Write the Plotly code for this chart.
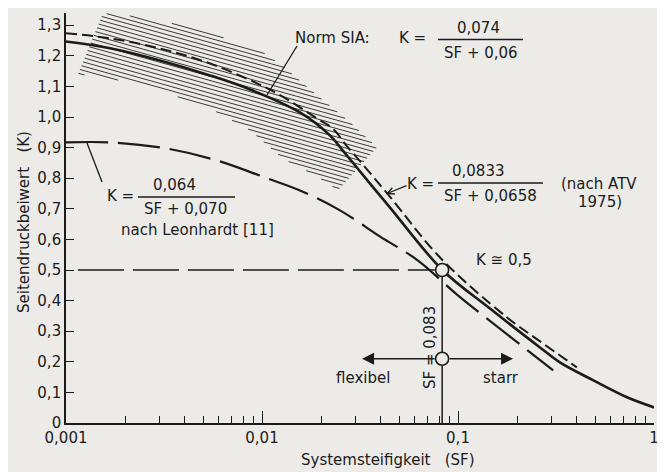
import numpy as np
import plotly.graph_objects as go

# ---------------- data ----------------
sia_sf = [0.001, 0.00168, 0.00302, 0.00543, 0.00869, 0.0156, 0.0222, 0.0258, 0.0369,
          0.0449, 0.083, 0.1456, 0.262, 0.331, 0.488, 0.728, 1.0]
sia_k = [1.247, 1.225, 1.185, 1.136, 1.090, 1.015, 0.940, 0.891, 0.770,
         0.705, 0.501, 0.374, 0.247, 0.198, 0.140, 0.084, 0.051]

atv_sf = [0.001, 0.00168, 0.00302, 0.00543, 0.00944, 0.0128, 0.0191, 0.0230, 0.0271, 0.0317,
          0.0449, 0.0812, 0.1779, 0.262, 0.404]
atv_k = [1.274, 1.257, 1.224, 1.175, 1.110, 1.066, 0.995, 0.962, 0.905, 0.855,
         0.740, 0.540, 0.345, 0.267, 0.182]

leo_sf = [0.001, 0.00168, 0.00327, 0.00589, 0.01059, 0.01563, 0.0250, 0.0399,
          0.0625, 0.0999, 0.1942, 0.306]
leo_k = [0.917, 0.917, 0.897, 0.858, 0.800, 0.760, 0.695, 0.610,
         0.531, 0.417, 0.271, 0.172]

# hatched band (scatter range of measurements)
band_upper_sf = [0.001544, 0.002048, 0.003017, 0.005429, 0.009767, 0.012798, 0.019083, 0.02812, 0.03861]
band_upper_k = [1.339, 1.332, 1.316, 1.274, 1.218, 1.166, 1.071, 0.983, 0.901]
band_lower_sf = [0.001151, 0.001677, 0.003017, 0.005429, 0.008685, 0.012798, 0.019083, 0.02442]
band_lower_k = [1.140, 1.127, 1.087, 1.028, 0.957, 0.864, 0.806, 0.761]

# critical point
sf_crit = 0.083
k_crit = 0.5
k_arrow = 0.21
arrow_left_sf = 0.0324
arrow_right_sf = 0.191
ref_line_start_sf = 0.00115

# ticks
x_tickvals = [0.001, 0.01, 0.1, 1]
x_ticktext = ["0,001", "0,01", "0,1", "1"]
x_minor = [m * d for d in (0.001, 0.01, 0.1) for m in range(2, 10)]
y_tickvals = [i / 10 for i in range(0, 14)]
y_ticktext = ["0"] + [f"{v:.1f}".replace(".", ",") for v in y_tickvals[1:]]

# ---------------- layout constants ----------------
# the page body has an 8px margin, so the figure is placed at (8, 8)
OFF = 8
W, H = 665 - OFF, 472 - OFF
ML, MR, MT, MB = 58, 11, 5, 49
PW, PH = W - ML - MR, H - MT - MB
SCR_LEFT = ML + OFF          # screen x of plot left edge
SCR_BOTTOM = H - MB + OFF    # screen y of plot bottom edge
Y_MAX = 1.34
INK = "#1b1b1b"
BG = "#ecebe8"
FONT = "DejaVu Sans"


def px(x):
    return (x - SCR_LEFT) / PW


def py(y):
    return (SCR_BOTTOM - y) / PH


# ---------------- hatch computation ----------------
poly_u = [np.log10(v) for v in band_upper_sf] + [np.log10(v) for v in band_lower_sf[::-1]]
poly_k = list(band_upper_k) + list(band_lower_k[::-1])
n = len(poly_u)
slope = -0.179  # K per decade (shallow, descending to the right)
cvals = [k - slope * u for u, k in zip(poly_u, poly_k)]
hx, hy = [], []
step = 0.0138
c = min(cvals) + step / 2
while c < max(cvals):
    pts = []
    for i in range(n):
        u1, k1 = poly_u[i], poly_k[i]
        u2, k2 = poly_u[(i + 1) % n], poly_k[(i + 1) % n]
        f1 = k1 - (c + slope * u1)
        f2 = k2 - (c + slope * u2)
        if (f1 > 0) != (f2 > 0):
            t = f1 / (f1 - f2)
            pts.append(u1 + t * (u2 - u1))
    pts.sort()
    for j in range(0, len(pts) - 1, 2):
        for uu in (pts[j], pts[j + 1]):
            hx.append(10 ** uu)
            hy.append(c + slope * uu)
        hx.append(None)
        hy.append(None)
    c += step

fig = go.Figure()

fig.add_trace(go.Scatter(x=hx, y=hy, mode="lines",
                         line=dict(color="#3a3a3a", width=1.0), hoverinfo="skip"))

# reference lines
fig.add_trace(go.Scatter(x=[ref_line_start_sf, sf_crit], y=[k_crit, k_crit], mode="lines",
                         line=dict(color=INK, width=1.5, dash="46px,9px")))
fig.add_trace(go.Scatter(x=[sf_crit, sf_crit], y=[0, k_crit], mode="lines",
                         line=dict(color=INK, width=1.5)))

# curves
fig.add_trace(go.Scatter(x=leo_sf, y=leo_k, mode="lines", line_shape="spline",
                         line=dict(color=INK, width=2.2, dash="42px,10px")))
fig.add_trace(go.Scatter(x=atv_sf, y=atv_k, mode="lines", line_shape="spline",
                         line=dict(color=INK, width=2.0, dash="11px,5px")))
fig.add_trace(go.Scatter(x=sia_sf, y=sia_k, mode="lines", line_shape="spline",
                         line=dict(color=INK, width=2.6)))

# circles
fig.add_trace(go.Scatter(x=[sf_crit, sf_crit], y=[k_crit, k_arrow], mode="markers",
                         marker=dict(symbol="circle", size=13, color=BG,
                                     line=dict(color=INK, width=1.6))))

ann = []
shapes = []


def text(x, y, s, size=15, angle=0):
    ann.append(dict(xref="paper", yref="paper", x=px(x), y=py(y), text=s,
                    showarrow=False, xanchor="center", yanchor="middle",
                    textangle=angle, font=dict(family=FONT, size=size, color=INK)))


def seg(x0, y0, x1, y1, w=1.3):
    shapes.append(dict(type="line", xref="paper", yref="paper",
                       x0=px(x0), y0=py(y0), x1=px(x1), y1=py(y1),
                       line=dict(color=INK, width=w)))


# Norm SIA
text(332, 38, "Norm SIA:")
text(412, 38, "K =")
text(478, 28, "0,074")
seg(438, 39.5, 523, 39.5)
text(481, 53, "SF + 0,06")
seg(297, 46, 267, 95)

# ATV
text(421, 184, "K =")
text(478, 171, "0,0833")
seg(438, 183, 543, 183)
text(490, 196, "SF + 0,0658")
text(599, 184, "(nach ATV")
text(600, 202, "1975)")
ann.append(dict(xref="paper", yref="paper", x=px(386), y=py(194), ax=22, ay=-9,
                showarrow=True, arrowhead=5, arrowsize=1.1, arrowwidth=1.2,
                arrowcolor=INK, text=""))

# Leonhardt
text(120, 196, "K =")
text(174, 185, "0,064")
seg(138, 197, 235, 197)
text(185, 209, "SF + 0,070")
text(197, 230, "nach Leonhardt [11]")
seg(102, 182, 87, 143)

# critical point labels
text(504, 260, "K ≅ 0,5")
text(430, 348, "SF = 0,083", angle=-90)
text(363, 378, "flexibel")
text(501, 378, "starr")

# arrows flexibel / starr
for tip in (arrow_left_sf, arrow_right_sf):
    ann.append(dict(xref="x", yref="y", axref="x", ayref="y",
                    x=np.log10(tip), y=k_arrow, ax=np.log10(sf_crit), ay=k_arrow,
                    showarrow=True, arrowhead=2, arrowsize=1.6, arrowwidth=1.5,
                    startstandoff=6, arrowcolor=INK, text=""))

# axis titles
text(388, 460, "Systemsteifigkeit   (SF)")
text(24, 222, "Seitendruckbeiwert   (K)", angle=-90)

fig.update_layout(
    width=W, height=H,
    margin=dict(l=ML, r=MR, t=MT, b=MB),
    paper_bgcolor=BG, plot_bgcolor=BG,
    showlegend=False,
    annotations=ann, shapes=shapes,
    font=dict(family=FONT, size=15, color=INK),
)
fig.update_xaxes(type="log", range=[-3, 0], showgrid=False, zeroline=False,
                 showline=True, linecolor=INK, linewidth=1.6,
                 tickmode="array", tickvals=x_tickvals, ticktext=x_ticktext,
                 ticks="inside", ticklen=12, tickwidth=1.4, tickcolor=INK,
                 minor=dict(tickmode="array", tickvals=x_minor, ticks="inside",
                            ticklen=7, tickwidth=1.3, tickcolor=INK, showgrid=False),
                 tickfont=dict(family=FONT, size=15, color=INK))
fig.update_yaxes(range=[0, Y_MAX], showgrid=False, zeroline=False,
                 showline=True, linecolor=INK, linewidth=1.6,
                 tickmode="array", tickvals=y_tickvals, ticktext=y_ticktext,
                 ticks="inside", ticklen=8, tickwidth=1.4, tickcolor=INK,
                 tickfont=dict(family=FONT, size=15, color=INK))

fig.write_html("out.html")
